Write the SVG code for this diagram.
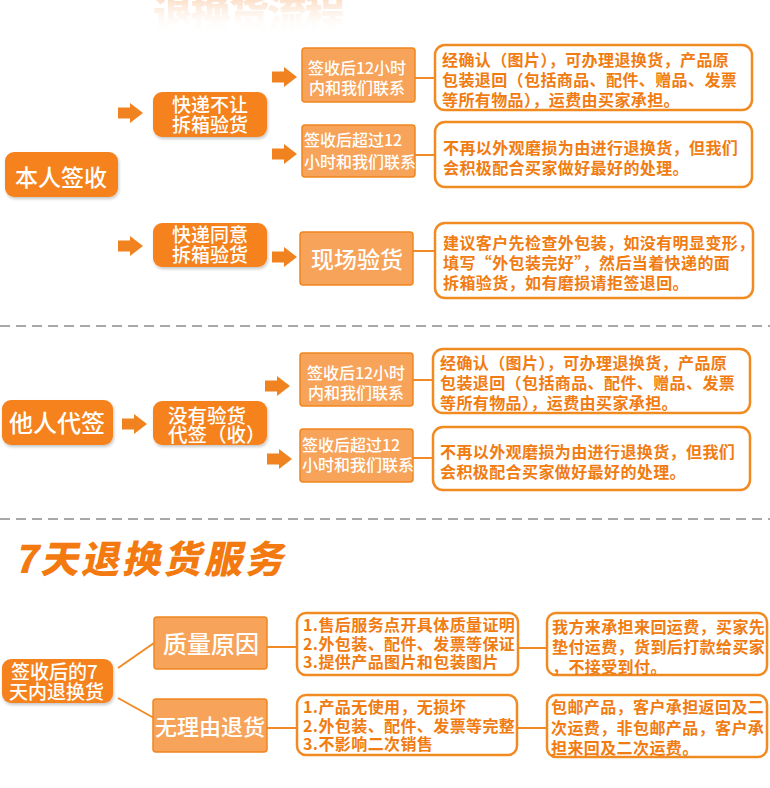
<svg xmlns="http://www.w3.org/2000/svg" width="770" height="788" viewBox="0 0 770 788">
<defs>
<style>
.dk{fill:#F5821F}
.lt{fill:#F7A35A;stroke:#F0861F;stroke-width:1.5}
.tb{fill:#fff;stroke:#F28A22;stroke-width:2.5}
.wt{fill:#fff;font-family:"Noto Sans CJK SC","Noto Sans CJK TC",sans-serif;font-weight:500}
.ot{fill:#F07C12;font-family:"Noto Sans CJK SC","Noto Sans CJK TC",sans-serif;font-weight:bold;font-size:16px;letter-spacing:0.4px}
.conn{stroke:#F08A24;stroke-width:2;fill:none}
.dash{stroke:#A8A8A8;stroke-width:2;stroke-dasharray:10 6}
.arr{fill:#F08320}
</style>
<filter id="sh" x="-10%" y="-10%" width="130%" height="140%">
<feDropShadow dx="1" dy="2" stdDeviation="1.5" flood-color="#000" flood-opacity="0.22"/>
</filter>
<linearGradient id="fade" x1="0" y1="0" x2="0" y2="34" gradientUnits="userSpaceOnUse">
<stop offset="0" stop-color="#F6B27A" stop-opacity="0.4"/>
<stop offset="1" stop-color="#ffffff" stop-opacity="0"/>
</linearGradient>
<path id="ar" d="M0,-5.5 H12 V-10 L25,0 L12,10 V5.5 H0 Z"/>
</defs>
<rect width="770" height="788" fill="#fff"/>

<text x="153" y="28" font-family="Noto Sans CJK SC,sans-serif" font-weight="900" font-size="40" fill="url(#fade)" letter-spacing="-2">退换货流程</text>

<g id="connectors">
<g class="arr">
<use href="#ar" x="118" y="113"/>
<use href="#ar" x="272" y="77"/>
<use href="#ar" x="272" y="154"/>
<use href="#ar" x="118" y="246"/>
<use href="#ar" x="272" y="257"/>
<use href="#ar" x="122" y="424"/>
<use href="#ar" x="265" y="386"/>
<use href="#ar" x="267" y="459"/>
</g>
<path class="conn" d="M415,78H436 M415,155H436 M413,251H436 M413,380H434 M413,458H434 M118,668L154,643 M118,698L154,718 M267,647H298 M267,728H298 M518,648H548 M517,728H548"/>
<line class="dash" x1="0" y1="326" x2="770" y2="326"/>
<line class="dash" x1="0" y1="519" x2="770" y2="519"/>
</g>

<g id="n-self">
<rect class="dk" filter="url(#sh)" x="5" y="152" width="113" height="45" rx="9"/>
<text class="wt" x="61" y="186" font-size="23" text-anchor="middle">本人签收</text>
</g>
<g id="n-noopen">
<rect class="dk" filter="url(#sh)" x="153" y="92" width="114" height="45" rx="9"/>
<text class="wt" x="210" y="112" font-size="19" text-anchor="middle">快递不让</text>
<text class="wt" x="210" y="132" font-size="19" text-anchor="middle">拆箱验货</text>
</g>
<g id="n-in12a">
<rect class="lt" x="302" y="48" width="113" height="54" rx="3"/>
<text class="wt" x="357" y="74" font-size="16" text-anchor="middle">签收后12小时</text>
<text class="wt" x="357" y="94" font-size="16" text-anchor="middle">内和我们联系</text>
</g>
<g id="n-over12a">
<rect class="lt" x="302" y="125" width="113" height="52" rx="3"/>
<text class="wt" x="304" y="146" font-size="16">签收后超过12</text>
<text class="wt" x="304" y="168" font-size="16">小时和我们联系</text>
</g>
<g id="t-1">
<rect class="tb" x="435" y="45" width="317" height="65" rx="10"/>
<text class="ot" x="442" y="66">经确认（图片），可办理退换货，产品原</text>
<text class="ot" x="442" y="86">包装退回（包括商品、配件、赠品、发票</text>
<text class="ot" x="442" y="106">等所有物品），运费由买家承担。</text>
</g>
<g id="t-2">
<rect class="tb" x="435" y="122" width="317" height="65" rx="10"/>
<text class="ot" x="443" y="154">不再以外观磨损为由进行退换货，但我们</text>
<text class="ot" x="443" y="174">会积极配合买家做好最好的处理。</text>
</g>
<g id="n-open">
<rect class="dk" filter="url(#sh)" x="153" y="223" width="114" height="44" rx="9"/>
<text class="wt" x="210" y="242" font-size="19" text-anchor="middle">快递同意</text>
<text class="wt" x="210" y="262" font-size="19" text-anchor="middle">拆箱验货</text>
</g>
<g id="n-onsite">
<rect class="lt" x="300" y="232" width="113" height="53" rx="3"/>
<text class="wt" x="357" y="268" font-size="23" text-anchor="middle">现场验货</text>
</g>
<g id="t-3">
<rect class="tb" x="435" y="223" width="318" height="75" rx="10"/>
<text class="ot" x="443" y="249">建议客户先检查外包装，如没有明显变形，</text>
<text class="ot" x="443" y="269">填写“外包装完好”，然后当着快递的面</text>
<text class="ot" x="443" y="289">拆箱验货，如有磨损请拒签退回。</text>
</g>

<g id="n-other">
<rect class="dk" filter="url(#sh)" x="2" y="400" width="111" height="45" rx="9"/>
<text class="wt" x="57" y="432" font-size="24" text-anchor="middle">他人代签</text>
</g>
<g id="n-proxy">
<rect class="dk" filter="url(#sh)" x="153" y="401" width="114" height="44" rx="9"/>
<text class="wt" x="168" y="423" font-size="19.5">没有验货</text>
<text class="wt" x="168" y="442" font-size="19.5">代签（收）</text>
</g>
<g id="n-in12b">
<rect class="lt" x="300" y="353" width="113" height="53" rx="3"/>
<text class="wt" x="356" y="379" font-size="16" text-anchor="middle">签收后12小时</text>
<text class="wt" x="356" y="399" font-size="16" text-anchor="middle">内和我们联系</text>
</g>
<g id="n-over12b">
<rect class="lt" x="300" y="429" width="113" height="53" rx="3"/>
<text class="wt" x="302" y="451" font-size="16">签收后超过12</text>
<text class="wt" x="302" y="471" font-size="16">小时和我们联系</text>
</g>
<g id="t-4">
<rect class="tb" x="433" y="349" width="317" height="64" rx="10"/>
<text class="ot" x="440" y="369">经确认（图片），可办理退换货，产品原</text>
<text class="ot" x="440" y="389">包装退回（包括商品、配件、赠品、发票</text>
<text class="ot" x="440" y="409">等所有物品），运费由买家承担。</text>
</g>
<g id="t-5">
<rect class="tb" x="433" y="427" width="317" height="63" rx="10"/>
<text class="ot" x="440" y="458">不再以外观磨损为由进行退换货，但我们</text>
<text class="ot" x="440" y="478">会积极配合买家做好最好的处理。</text>
</g>

<text x="0" y="0" transform="translate(14,573) skewX(-12)" font-family="Noto Sans CJK SC,sans-serif" font-weight="900" font-size="38" fill="#F37A10" letter-spacing="3">7天退换货服务</text>

<g id="n-7day">
<rect class="dk" filter="url(#sh)" x="2" y="659" width="111" height="44" rx="9"/>
<text class="wt" x="11" y="679" font-size="19">签收后的7</text>
<text class="wt" x="9" y="699" font-size="19">天内退换货</text>
</g>
<g id="n-quality">
<rect class="lt" x="154" y="617" width="113" height="52" rx="3"/>
<text class="wt" x="211" y="653" font-size="24" text-anchor="middle">质量原因</text>
</g>
<g id="n-noreason">
<rect class="lt" x="153" y="699" width="114" height="53" rx="3"/>
<text class="wt" x="210" y="735" font-size="22" text-anchor="middle">无理由退货</text>
</g>
<g id="t-6">
<rect class="tb" x="297" y="613" width="221" height="62" rx="9"/>
<text class="ot" x="303" y="631">1.售后服务点开具体质量证明</text>
<text class="ot" x="303" y="649.5">2.外包装、配件、发票等保证</text>
<text class="ot" x="303" y="668">3.提供产品图片和包装图片</text>
</g>
<g id="t-7">
<rect class="tb" x="547" y="613" width="220" height="62" rx="9"/>
<text class="ot" x="552" y="633">我方来承担来回运费，买家先</text>
<text class="ot" x="552" y="653">垫付运费，货到后打款给买家</text>
<text class="ot" x="552" y="673">，不接受到付。</text>
</g>
<g id="t-8">
<rect class="tb" x="297" y="695" width="220" height="60" rx="9"/>
<text class="ot" x="303" y="713">1.产品无使用，无损坏</text>
<text class="ot" x="303" y="732">2.外包装、配件、发票等完整</text>
<text class="ot" x="303" y="750">3.不影响二次销售</text>
</g>
<g id="t-9">
<rect class="tb" x="547" y="695" width="220" height="62" rx="9"/>
<text class="ot" x="551" y="713">包邮产品，客户承担返回及二</text>
<text class="ot" x="551" y="734">次运费，非包邮产品，客户承</text>
<text class="ot" x="551" y="754">担来回及二次运费。</text>
</g>
</svg>
